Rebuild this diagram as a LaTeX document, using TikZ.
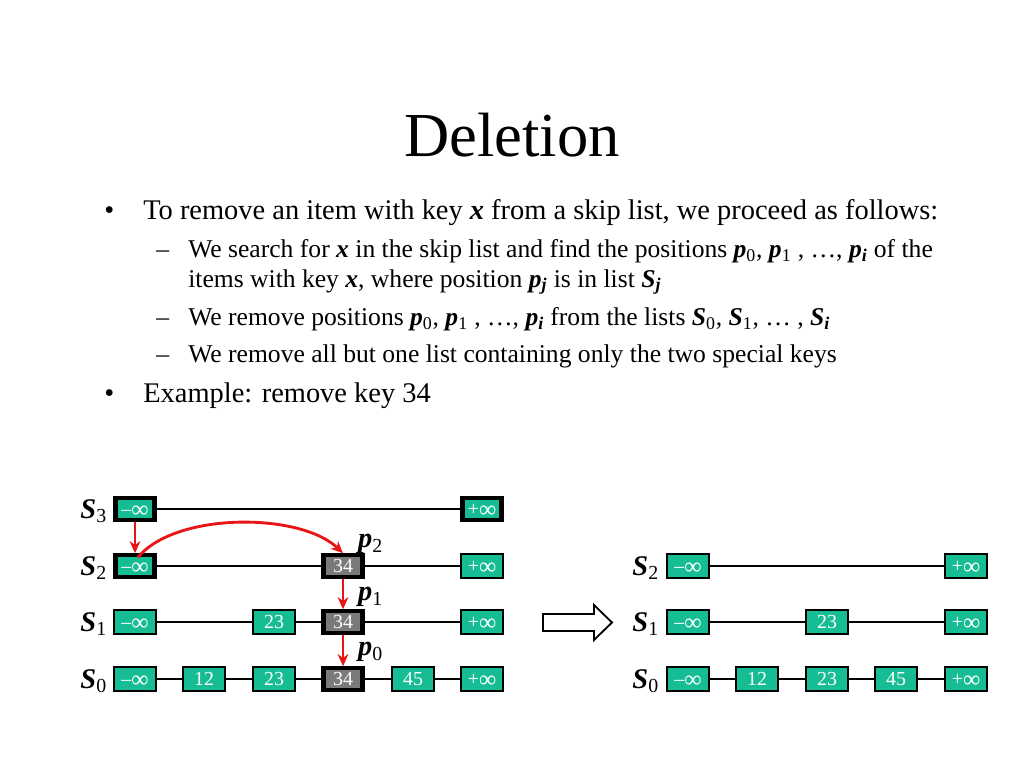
\documentclass[tikz,border=0pt]{standalone}
\usepackage{fontspec}
\setmainfont{Liberation Serif}
\usetikzlibrary{arrows.meta}
\definecolor{boxgreen}{RGB}{22,188,148}
\definecolor{boxgray}{RGB}{122,122,122}
\definecolor{arrred}{RGB}{232,20,22}
\newcommand{\bi}[1]{\textbf{\textit{#1}}}
\newcommand{\infsym}{\raisebox{-1pt}{\fontsize{17}{14}\selectfont ∞}}
\tikzset{
  keybox/.style={draw=black, fill=boxgreen, line width=1.4pt, minimum width=29pt, minimum height=16.4pt, inner sep=0pt, text height=9.5pt, text depth=0pt, text=white, font=\fontsize{14}{14}\selectfont},
  thickbox/.style={keybox, line width=3pt, minimum width=27.6pt, minimum height=15pt},
  delbox/.style={thickbox, fill=boxgray},
  link/.style={line width=1.1pt, draw=black},
  redarrow/.style={draw=arrred, line width=2pt, -{Stealth[length=8.5pt,width=7.5pt]}},
  listlabel/.style={anchor=east, font=\fontsize{20}{20}\selectfont},
  plabel/.style={anchor=west, font=\fontsize{20}{20}\selectfont},
  txt1/.style={anchor=base west, inner sep=0pt, font=\fontsize{20}{24}\selectfont},
  txt2/.style={anchor=base west, inner sep=0pt, font=\fontsize{18}{22}\selectfont}
}
\begin{document}
\begin{tikzpicture}[x=0.703125pt,y=-0.703125pt]
\useasboundingbox[fill=white] (0,0) rectangle (1024,768);
% title
\node[anchor=base, inner sep=0pt, font=\fontsize{44}{44}\selectfont] (title) at (512,157) {Deletion};
% bullets
\node[txt1] (b1) at (104,220) {•};
\node[txt1] (t1) at (143,220) {To remove an item with key \bi{x} from a skip list, we proceed as follows:};
\node[txt2] (d1) at (156,258) {–};
\node[txt2] (t2) at (188,258) {We search for \bi{x} in the skip list and find the positions \bi{p}\textsubscript{0}, \bi{p}\textsubscript{1} , …, \bi{p}\textsubscript{\bi{i}} of the};
\node[txt2] (t3) at (188,287) {items with key \bi{x}, where position \bi{p}\textsubscript{\bi{j}} is in list \bi{S}\textsubscript{\bi{j}}};
\node[txt2] (d2) at (156,326) {–};
\node[txt2] (t4) at (188,326) {We remove positions \bi{p}\textsubscript{0}, \bi{p}\textsubscript{1} , …, \bi{p}\textsubscript{\bi{i}} from the lists \bi{S}\textsubscript{0}, \bi{S}\textsubscript{1}, … , \bi{S}\textsubscript{\bi{i}}};
\node[txt2] (d3) at (156,362) {–};
\node[txt2] (t5) at (188,362) {We remove all but one list containing only the two special keys};
\node[txt1] (b2) at (104,402) {•};
\node[txt1] (t6) at (143,402) {Example: remove key 34};

% ---------- left skip list ----------
% S3
\node[thickbox] (a3m) at (135,509) {–\infsym};
\node[thickbox] (a3p) at (482,509) {+\infsym};
% S2
\node[thickbox] (a2m) at (135,566) {–\infsym};
\node[delbox] (a2d) at (343,566) {34};
\node[keybox] (a2p) at (482,566) {+\infsym};
% S1
\node[keybox] (a1m) at (135,622) {–\infsym};
\node[keybox] (a1c) at (274,622) {23};
\node[delbox] (a1d) at (343,622) {34};
\node[keybox] (a1p) at (482,622) {+\infsym};
% S0
\node[keybox] (a0m) at (135,679) {–\infsym};
\node[keybox] (a0a) at (204,679) {12};
\node[keybox] (a0c) at (274,679) {23};
\node[delbox] (a0d) at (343,679) {34};
\node[keybox] (a0e) at (413,679) {45};
\node[keybox] (a0p) at (482,679) {+\infsym};
% links
\draw[link] (a3m) -- (a3p);
\draw[link] (a2m) -- (a2d);
\draw[link] (a2d) -- (a2p);
\draw[link] (a1m) -- (a1c);
\draw[link] (a1c) -- (a1d);
\draw[link] (a1d) -- (a1p);
\draw[link] (a0m) -- (a0a);
\draw[link] (a0a) -- (a0c);
\draw[link] (a0c) -- (a0d);
\draw[link] (a0d) -- (a0e);
\draw[link] (a0e) -- (a0p);
% labels
\node[listlabel] (l3) at (112,511) {\bi{S}\textsubscript{3}};
\node[listlabel] (l2) at (112,568) {\bi{S}\textsubscript{2}};
\node[listlabel] (l1) at (112,624) {\bi{S}\textsubscript{1}};
\node[listlabel] (l0) at (112,681) {\bi{S}\textsubscript{0}};
\node[plabel] (p2) at (353,544) {\bi{p}\textsubscript{2}};
\node[plabel] (p1) at (353,597) {\bi{p}\textsubscript{1}};
\node[plabel] (p0) at (353,652) {\bi{p}\textsubscript{0}};
% red search path
\draw[redarrow] (a3m.south) -- (a2m.north);
\draw[redarrow] ([xshift=2pt,yshift=-3pt]a2m.north) .. controls (175,512) and (300,512) .. (a2d.north);
\draw[redarrow] (a2d.south) -- (a1d.north);
\draw[redarrow] (a1d.south) -- (a0d.north);

% ---------- block arrow ----------
\draw[line width=1.3pt, fill=white, line join=miter]
  (543,614) -- (594,614) -- (594,605) -- (612,622.5) -- (594,640) -- (594,631) -- (543,631) -- cycle;

% ---------- right skip list ----------
\node[keybox] (b2m) at (688,566) {–\infsym};
\node[keybox] (b2p) at (966,566) {+\infsym};
\node[keybox] (b1m) at (688,622) {–\infsym};
\node[keybox] (b1c) at (827,622) {23};
\node[keybox] (b1p) at (966,622) {+\infsym};
\node[keybox] (b0m) at (688,679) {–\infsym};
\node[keybox] (b0a) at (757,679) {12};
\node[keybox] (b0c) at (827,679) {23};
\node[keybox] (b0e) at (896,679) {45};
\node[keybox] (b0p) at (966,679) {+\infsym};
\draw[link] (b2m) -- (b2p);
\draw[link] (b1m) -- (b1c);
\draw[link] (b1c) -- (b1p);
\draw[link] (b0m) -- (b0a);
\draw[link] (b0a) -- (b0c);
\draw[link] (b0c) -- (b0e);
\draw[link] (b0e) -- (b0p);
\node[listlabel] (r2) at (664,568) {\bi{S}\textsubscript{2}};
\node[listlabel] (r1) at (664,624) {\bi{S}\textsubscript{1}};
\node[listlabel] (r0) at (664,681) {\bi{S}\textsubscript{0}};
\end{tikzpicture}
\end{document}
